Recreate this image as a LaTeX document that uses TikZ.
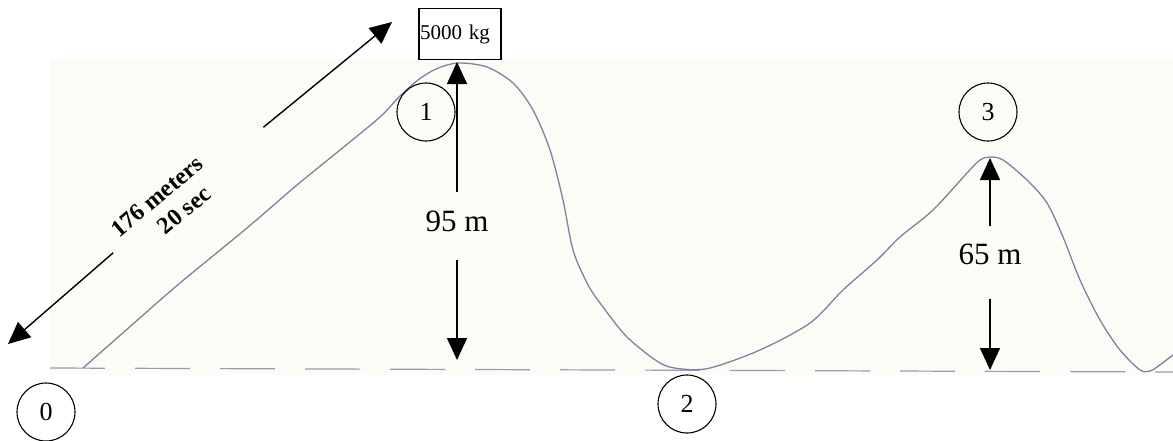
\documentclass[tikz,border=0pt]{standalone}
\usepackage{fontspec}
\setmainfont{Liberation Serif}
\usepackage{xcolor}
\usepackage{tikz}
\usetikzlibrary{shapes,arrows.meta,positioning}
\definecolor{trackcol}{RGB}{135,125,160}
\definecolor{paper}{RGB}{252,252,247}

\begin{document}
\begin{tikzpicture}[x=1pt,y=-1pt]
  % Styles
  \tikzset{
    pointmark/.style={circle, draw=black, line width=1.1pt, minimum size=58pt,
      inner sep=0pt, font=\fontsize{26}{30}\selectfont},
    massbox/.style={rectangle, draw=black, line width=1.1pt, minimum width=82pt,
      minimum height=51pt, text width=80pt, inner sep=1pt, align=left, font=\fontsize{21}{24}\selectfont},
    heightlbl/.style={inner sep=0pt, font=\fontsize{31}{36}\selectfont},
    lenlbl/.style={align=center, rotate=40, inner sep=2pt, font=\bfseries\fontsize{24}{28}\selectfont},
    arrow/.style={-{Triangle[length=22pt,width=20pt]}, line width=1.4pt, black},
    track/.style={draw=trackcol, line width=1.3pt},
    ground/.style={draw=trackcol!80, line width=1.2pt, dash pattern=on 55pt off 30pt}
  }

  % Page and paper
  \useasboundingbox (0,0) rectangle (1173,440);
  \fill[paper] (50,58) rectangle (1173,375);

  % Ground line
  \draw[ground] (50,368) -- (1173,372);

  % Track
  \draw[track] plot[smooth, tension=0.5] coordinates {
    (83,368) (133,324) (180,283) (247,228) (297,185) (340,150) (380,117)
    (400,96) (418,80) (436,69) (458,63) (487,67) (513,83) (533,110)
    (550,150) (563,200) (573,250) (587,283) (600,303) (627,337) (660,363)
    (682,369) (710,368) (760,350) (810,323) (843,290) (877,260) (900,237)
    (933,210) (967,173) (980,160) (990,157) (1003,160) (1027,180)
    (1047,203) (1063,237) (1080,280) (1100,320) (1120,350) (1140,370)
    (1150,371) (1157,367) (1173,355)};

  % Peaks and feet
  \coordinate (top1) at (457,62);
  \coordinate (foot1) at (457,360);
  \coordinate (top3) at (990,158);
  \coordinate (foot3) at (990,370);

  % Mass
  \node[massbox] (mass) at (460,34) {5000 kg};

  % Points
  \node[pointmark] (p0) at (46,412) {0};
  \node[pointmark] (p1) at (426,112) {1};
  \node[pointmark] (p2) at (687,404) {2};
  \node[pointmark] (p3) at (988,112) {3};

  % Heights
  \node[heightlbl] (h95) at (457,221) {95 m};
  \node[heightlbl] (h65) at (990,254) {65 m};
  \draw[arrow, shorten <=18pt] (h95) -- (top1);
  \draw[arrow, shorten <=28pt] (h95) -- (foot1);
  \draw[arrow, shorten <=17pt] (h65) -- (top3);
  \draw[arrow, shorten <=34pt] (h65) -- (foot3);

  % Length of the first climb
  \node[lenlbl] (len) at (166,207) {176 meters\\\hspace*{24pt}20 sec};
  \coordinate (lenlo) at (8,344);
  \coordinate (lenhi) at (392,22);
  \draw[arrow, shorten <=12pt] (len) -- (lenlo);
  \draw[arrow, shorten <=68pt] (len) -- (lenhi);

\end{tikzpicture}
\end{document}
